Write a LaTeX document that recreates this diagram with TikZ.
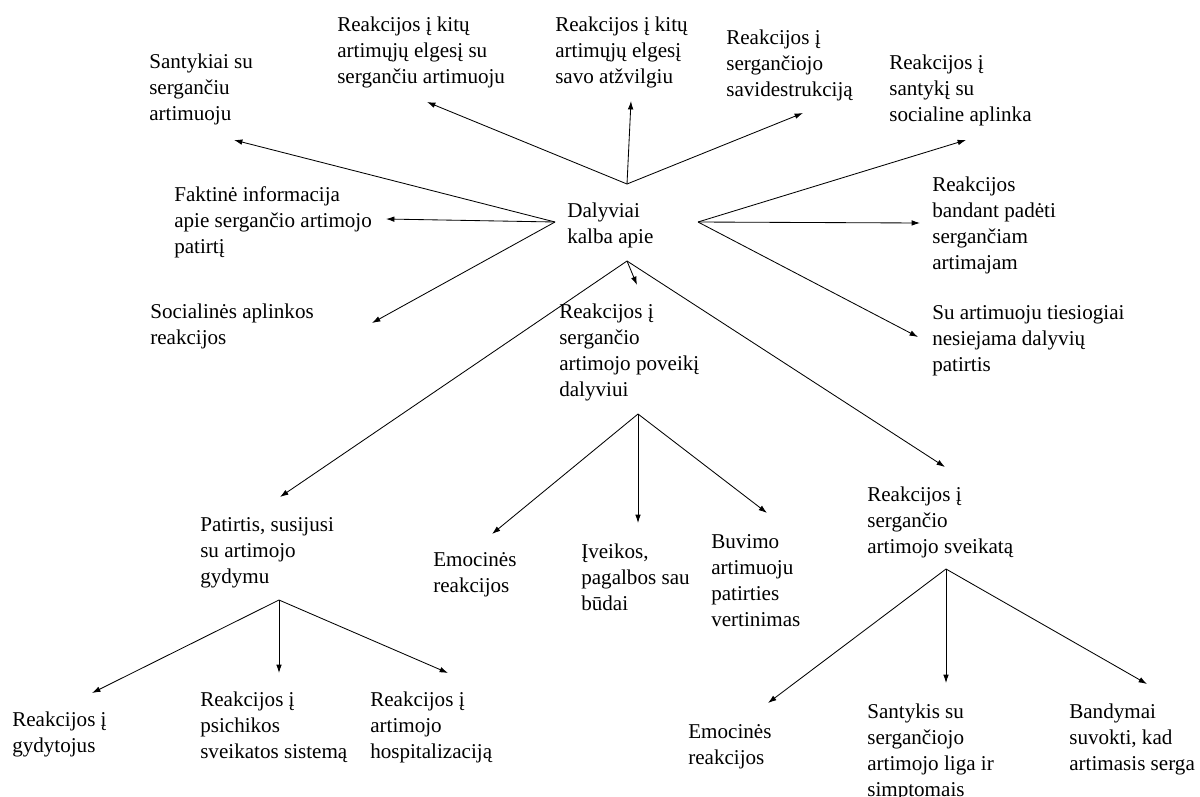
\documentclass[tikz,border=0pt]{standalone}
\usepackage{fontspec}
\setmainfont{Liberation Serif}
\usetikzlibrary{arrows.meta}

\begin{document}
\begin{tikzpicture}[x=0.025cm,y=-0.025cm,
    lbl/.style={anchor=base west,align=left,inner sep=0pt,font=\fontsize{15}{18.4}\selectfont},
    arr/.style={-{Latex[length=2.1mm,width=1.4mm]},line width=0.6pt}]
        \useasboundingbox (0,0) rectangle (1200,796);
        \node[lbl] (sant) at (149,120) {Santykiai su\\sergančiu\\artimuoju};
        \node[lbl] (kitA) at (337,83) {Reakcijos į kitų\\artimųjų elgesį su\\sergančiu artimuoju};
        \node[lbl] (kitB) at (555,83) {Reakcijos į kitų\\artimųjų elgesį\\savo atžvilgiu};
        \node[lbl] (savi) at (726,96) {Reakcijos į\\sergančiojo\\savidestrukciją};
        \node[lbl] (soc) at (889,121) {Reakcijos į\\santykį su\\socialine aplinka};
        \node[lbl] (fakt) at (174,253) {Faktinė informacija\\apie sergančio artimojo\\patirtį};
        \node[lbl] (dal) at (567,243) {Dalyviai\\kalba apie};
        \node[lbl] (band) at (932,269) {Reakcijos\\bandant padėti\\sergančiam\\artimajam};
        \node[lbl] (socr) at (150,344) {Socialinės aplinkos\\reakcijos};
        \node[lbl] (pov) at (559,396) {Reakcijos į\\sergančio\\artimojo poveikį\\dalyviui};
        \node[lbl] (ties) at (932,371) {Su artimuoju tiesiogiai\\nesiejama dalyvių\\patirtis};
        \node[lbl] (gyd) at (200,583) {Patirtis, susijusi\\su artimojo\\gydymu};
        \node[lbl] (emo1) at (433,592) {Emocinės\\reakcijos};
        \node[lbl] (iveik) at (581,610) {Įveikos,\\pagalbos sau\\būdai};
        \node[lbl] (buv) at (711,626) {Buvimo\\artimuoju\\patirties\\vertinimas};
        \node[lbl] (sveik) at (867,553) {Reakcijos į\\sergančio\\artimojo sveikatą};
        \node[lbl] (gydt) at (12,752) {Reakcijos į\\gydytojus};
        \node[lbl] (psich) at (200,758) {Reakcijos į\\psichikos\\sveikatos sistemą};
        \node[lbl] (hosp) at (370,758) {Reakcijos į\\artimojo\\hospitalizaciją};
        \node[lbl] (emo2) at (688,764) {Emocinės\\reakcijos};
        \node[lbl] (simpt) at (867,796) {Santykis su\\sergančiojo\\artimojo liga ir\\simptomais};
        \node[lbl] (supr) at (1069,770) {Bandymai\\suvokti, kad\\artimasis serga};
        \coordinate (hubT) at (627,184);
        \coordinate (hubL) at (555,222);
        \coordinate (hubR) at (698,222);
        \coordinate (hubB) at (627,261);
        \coordinate (hubG) at (279,600);
        \coordinate (hubP) at (638,414);
        \coordinate (hubS) at (946,569);
        \coordinate (tSant) at (234,140);
        \coordinate (tKitA) at (427,102);
        \coordinate (tKitB) at (631,101);
        \coordinate (tSavi) at (803,113);
        \coordinate (tSoc) at (966,140);
        \coordinate (tFakt) at (386,219);
        \coordinate (tSocr) at (372,323);
        \coordinate (tBand) at (920,223);
        \coordinate (tTies) at (918,337);
        \coordinate (tPov) at (637,285);
        \coordinate (tGyd) at (280,497);
        \coordinate (tSveik) at (945,467);
        \coordinate (tGydt) at (92,693);
        \coordinate (tPsich) at (279,673);
        \coordinate (tHosp) at (448,673);
        \coordinate (tEmo1) at (492,534);
        \coordinate (tIveik) at (638,523);
        \coordinate (tBuv) at (767,513);
        \coordinate (tEmo2) at (768,703);
        \coordinate (tSimpt) at (946,683);
        \coordinate (tSupr) at (1147,684);
        \draw[arr] (hubT) -- (tKitA);
        \draw[arr] (hubT) -- (tKitB);
        \draw[arr] (hubT) -- (tSavi);
        \draw[arr] (hubL) -- (tSant);
        \draw[arr] (hubL) -- (tFakt);
        \draw[arr] (hubL) -- (tSocr);
        \draw[arr] (hubR) -- (tSoc);
        \draw[arr] (hubR) -- (tBand);
        \draw[arr] (hubR) -- (tTies);
        \draw[arr] (hubB) -- (tPov);
        \draw[arr] (hubB) -- (tGyd);
        \draw[arr] (hubB) -- (tSveik);
        \draw[arr] (hubG) -- (tGydt);
        \draw[arr] (hubG) -- (tPsich);
        \draw[arr] (hubG) -- (tHosp);
        \draw[arr] (hubP) -- (tEmo1);
        \draw[arr] (hubP) -- (tIveik);
        \draw[arr] (hubP) -- (tBuv);
        \draw[arr] (hubS) -- (tEmo2);
        \draw[arr] (hubS) -- (tSimpt);
        \draw[arr] (hubS) -- (tSupr);
\end{tikzpicture}
\end{document}
